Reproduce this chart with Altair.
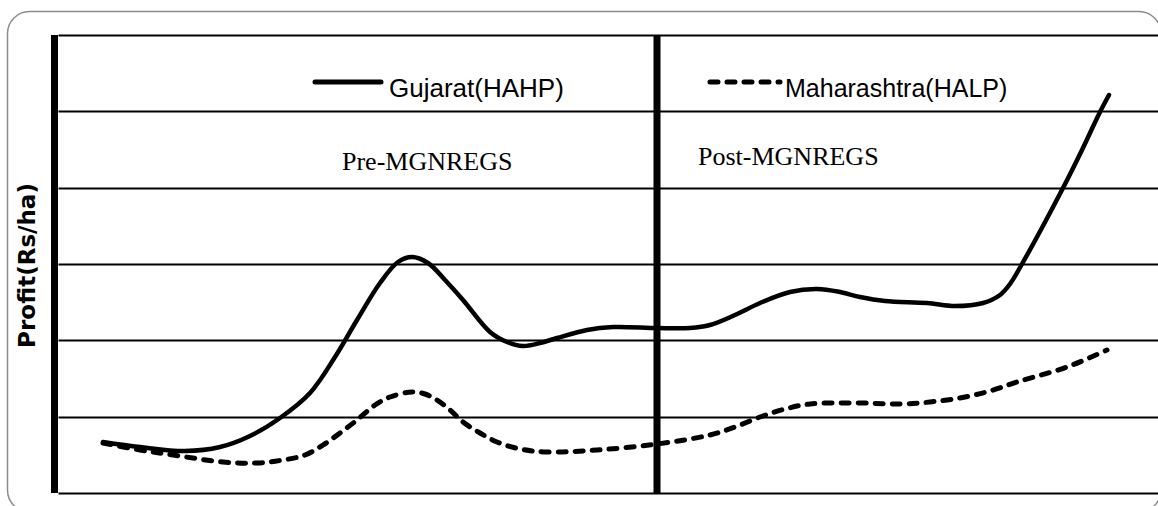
import altair as alt
import pandas as pd

# ---- data (x = horizontal position, y = profit in Rs/ha, arbitrary scale) ----
series_names = ["Gujarat(HAHP)", "Maharashtra(HALP)"]

guj_x = [45, 82, 127, 162, 192, 222, 252, 277, 299, 322, 340, 354, 370, 387, 405, 432, 449, 465,
         482, 499, 529, 555, 599, 632, 652, 677, 702, 732, 759, 782, 802, 827, 869, 897, 925, 942,
         952, 964, 1005, 1024, 1042, 1051]
guj_y = [3341, 3013, 2751, 3013, 3734, 4913, 6550, 8908, 11332, 13755, 15131, 15458, 15065, 13952,
         12642, 10546, 9891, 9629, 9825, 10153, 10677, 10873, 10808, 10808, 11004, 11659, 12445,
         13166, 13362, 13166, 12838, 12576, 12445, 12249, 12445, 12969, 13690, 15000, 19978,
         22467, 24956, 26069]

mah_x = [45, 82, 115, 165, 199, 225, 247, 265, 282, 299, 317, 332, 354, 367, 379, 392, 405, 422,
         439, 462, 489, 539, 599, 652, 677, 702, 727, 752, 802, 842, 872, 902, 932, 959, 1009, 1049]
mah_y = [3275, 2817, 2489, 2031, 1965, 2162, 2489, 3144, 3930, 4782, 5764, 6288, 6616, 6485, 6092,
         5437, 4651, 3930, 3341, 2882, 2686, 2817, 3210, 3799, 4323, 4978, 5502, 5830, 5895, 5830,
         5961, 6223, 6681, 7271, 8253, 9367]

grid_values = [0, 5000, 10000, 15000, 20000, 25000, 30000]
divider_pos = [599]          # boundary between pre- and post-MGNREGS periods
period_labels = ["Pre-MGNREGS", "Post-MGNREGS"]
y_title = "Profit(Rs/ha)"

guj_df = pd.DataFrame({"pos": guj_x, "profit": guj_y})
mah_df = pd.DataFrame({"pos": mah_x, "profit": mah_y})

W, H = 1100, 458

xs = alt.Scale(domain=[0, 1100], nice=False, zero=False)
ys = alt.Scale(domain=[0, 30000], nice=False, zero=False)

y_axis = alt.Axis(
    values=grid_values, grid=True, gridColor="black", gridWidth=2,
    domain=False, ticks=False, labels=False,
    title=y_title, titleFont="DejaVu Sans", titleFontWeight="bold", titleFontSize=23,
    titleColor="black", titleAngle=270, titleAlign="center", titleBaseline="middle",
    titleX=-31, titleY=230)

guj_line = alt.Chart(guj_df).mark_line(
    interpolate="catmull-rom", color="black", strokeWidth=4.5, strokeCap="round"
).encode(
    x=alt.X("pos:Q", scale=xs, axis=None),
    y=alt.Y("profit:Q", scale=ys, axis=y_axis),
)

mah_line = alt.Chart(mah_df).mark_line(
    interpolate="catmull-rom", color="black", strokeWidth=5, strokeCap="round", strokeDash=[8, 9]
).encode(
    x=alt.X("pos:Q", scale=xs, axis=None),
    y=alt.Y("profit:Q", scale=ys, axis=y_axis),
)

divider = alt.Chart(pd.DataFrame({"pos": divider_pos})).mark_rule(
    color="black", strokeWidth=7
).encode(x=alt.X("pos:Q", scale=xs, axis=None))

one = pd.DataFrame({"k": [0]})

left_axis = alt.Chart(one).mark_rule(color="black", strokeWidth=7).encode(
    x=alt.value(-3.5), y=alt.value(0), y2=alt.value(H))

# legend (drawn in place, inside the plot)
leg_guj = alt.Chart(one).mark_rule(color="black", strokeWidth=5, strokeCap="round").encode(
    x=alt.value(257), x2=alt.value(323), y=alt.value(47))
leg_mah = alt.Chart(one).mark_rule(color="black", strokeWidth=5, strokeCap="round",
                                   strokeDash=[8, 9]).encode(
    x=alt.value(652), x2=alt.value(722), y=alt.value(47))
leg_guj_txt = alt.Chart(one).mark_text(
    text=series_names[0], font="Liberation Sans", fontSize=26, align="left",
    baseline="alphabetic", color="black").encode(x=alt.value(331), y=alt.value(62))
leg_mah_txt = alt.Chart(one).mark_text(
    text=series_names[1], font="Liberation Sans", fontSize=25, align="left",
    baseline="alphabetic", color="black").encode(x=alt.value(727), y=alt.value(62))

pre_text = alt.Chart(one).mark_text(
    text=period_labels[0], font="Liberation Serif", fontSize=26, align="left",
    baseline="alphabetic", color="black"
).encode(x=alt.value(284), y=alt.value(135))

post_text = alt.Chart(one).mark_text(
    text=period_labels[1], font="Liberation Serif", fontSize=26, align="left",
    baseline="alphabetic", color="black"
).encode(x=alt.value(640), y=alt.value(130))

frame = alt.Chart(one).mark_rect(
    fillOpacity=0, stroke="#8c8c8c", strokeWidth=1.5, cornerRadius=22
).encode(x=alt.value(-50.5), x2=alt.value(1103), y=alt.value(-23.5), y2=alt.value(477))

chart = alt.layer(
    frame, divider, guj_line, mah_line, left_axis,
    leg_guj, leg_mah, leg_guj_txt, leg_mah_txt, pre_text, post_text
).properties(
    width=W, height=H,
    autosize=alt.AutoSizeParams(type="none"),
    padding={"left": 58, "top": 35, "right": 0, "bottom": 13},
    background="white",
).configure_view(stroke=None)

chart.save("out.html", embed_options={"renderer": "svg", "actions": False})
